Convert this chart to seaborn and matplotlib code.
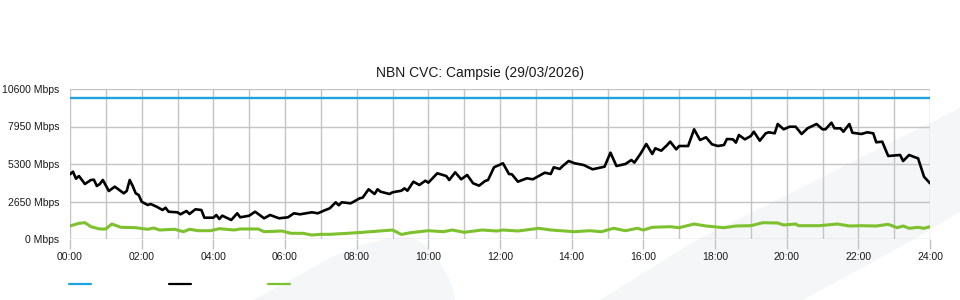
import matplotlib
matplotlib.use("Agg")
import matplotlib.pyplot as plt
from matplotlib.patches import Polygon
from matplotlib.lines import Line2D
import seaborn as sns
import pandas as pd

# ---------------- data ----------------
title = "NBN CVC: Campsie (29/03/2026)"
y_ticks = [0, 2650, 5300, 7950, 10600]
y_labels = ["0 Mbps", "2650 Mbps", "5300 Mbps", "7950 Mbps", "10600 Mbps"]
x_ticks = [0, 120, 240, 360, 480, 600, 720, 840, 960, 1080, 1200, 1320, 1440]
x_labels = ["00:00", "02:00", "04:00", "06:00", "08:00", "10:00", "12:00",
            "14:00", "16:00", "18:00", "20:00", "22:00", "24:00"]

capacity_minutes = [0, 1440]
capacity_mbps = [9950, 9950]

black_minutes = [0, 5, 10, 15, 25, 35, 40, 45, 50, 55, 65, 75, 90, 95, 100, 105,
                 110, 115, 120, 130, 135, 145, 155, 160, 165, 180, 185, 195, 200,
                 210, 220, 225, 240, 245, 250, 255, 270, 280, 285, 300, 310, 325,
                 335, 350, 365, 375, 385, 405, 415, 425, 435, 445, 450, 455, 470,
                 475, 485, 490, 500, 510, 515, 520, 535, 540, 555, 560, 565, 575,
                 585, 595, 600, 615, 630, 635, 645, 655, 665, 675, 685, 695, 700,
                 710, 725, 735, 740, 750, 765, 775, 795, 805, 810, 820, 825, 835,
                 845, 860, 875, 895, 905, 915, 930, 940, 945, 955, 965, 975, 980,
                 990, 1000, 1005, 1015, 1020, 1035, 1045, 1055, 1065, 1075, 1085,
                 1095, 1100, 1110, 1115, 1120, 1130, 1140, 1145, 1155, 1165, 1170,
                 1180, 1185, 1195, 1205, 1215, 1225, 1235, 1250, 1260, 1265, 1275,
                 1280, 1290, 1295, 1305, 1310, 1325, 1335, 1345, 1350, 1360, 1370,
                 1390, 1395, 1405, 1415, 1420, 1430, 1440]
black_mbps = [4572, 4756, 4262, 4452, 3887, 4170, 4190, 3745, 3887, 4170, 3392,
              3698, 3228, 3392, 4170, 3745, 3228, 3109, 2636, 2403, 2473, 2283,
              2049, 2212, 1929, 1884, 1745, 1979, 1767, 2099, 2049, 1505, 1505,
              1696, 1413, 1647, 1343, 1816, 1533, 1647, 1929, 1463, 1696, 1463,
              1533, 1816, 1745, 1887, 1816, 2000, 2170, 2594, 2380, 2594, 2523,
              2636, 2876, 2920, 3512, 3180, 3512, 3343, 3180, 3300, 3413, 3580,
              3413, 4050, 3816, 4120, 3980, 4643, 4452, 4170, 4713, 4219, 4523,
              3936, 3769, 4099, 4170, 5067, 5350, 4594, 4570, 4050, 4290, 4219,
              4686, 4594, 5067, 4950, 5159, 5512, 5350, 5230, 4926, 5109, 6099,
              5159, 5300, 5583, 5400, 6007, 6713, 6007, 6410, 6240, 6643, 6879,
              6336, 6572, 6572, 7752, 6996, 7187, 6690, 6572, 6643, 7067, 7043,
              6808, 7350, 7043, 7279, 7583, 6947, 7470, 7540, 7470, 8127, 7752,
              7936, 7936, 7420, 7822, 8127, 7752, 7752, 8219, 7822, 7822, 7583,
              8127, 7512, 7420, 7540, 7470, 6834, 6879, 5866, 5936, 5512, 5936,
              5771, 5700, 4403, 3936]

green_minutes = [0, 15, 25, 35, 50, 60, 70, 85, 110, 130, 140, 150, 175, 190, 200,
                 215, 235, 250, 275, 285, 315, 325, 355, 370, 390, 405, 420, 435,
                 465, 490, 540, 555, 570, 600, 625, 640, 660, 690, 715, 725, 750,
                 785, 805, 845, 870, 890, 910, 930, 950, 960, 975, 1005, 1020,
                 1045, 1065, 1095, 1115, 1140, 1160, 1185, 1195, 1215, 1220, 1255,
                 1285, 1305, 1325, 1350, 1370, 1385, 1395, 1405, 1420, 1430, 1440]
green_mbps = [919, 1109, 1152, 870, 707, 707, 1060, 827, 799, 686, 777, 636, 686,
              516, 686, 587, 587, 728, 636, 707, 707, 516, 565, 403, 403, 283, 330,
              330, 403, 473, 636, 320, 445, 587, 516, 636, 473, 636, 565, 636, 565,
              756, 636, 516, 587, 516, 756, 587, 756, 636, 827, 870, 799, 1060,
              919, 799, 919, 940, 1152, 1130, 990, 1060, 940, 940, 1060, 919, 940,
              919, 1038, 799, 919, 756, 827, 756, 870]

# ---------------- styling ----------------
c_blue = "#1fa3dd"
c_black = "#000000"
c_green = "#7ec12f"
c_grid = "#c4c4c4"
c_text = "#1a1a1a"
c_mark = "#f5f6f8"

sns.set_theme(style="white")
plt.rcParams["font.family"] = ["Liberation Sans", "DejaVu Sans"]

fig = plt.figure(figsize=(9.6, 3.0), dpi=100)
W, H = 960.0, 300.0

def px(pts):
    return [(x / W, 1 - y / H) for x, y in pts]

# decorative watermark shapes (behind everything)
fig.patches.append(Polygon(px([(253, 300), (290, 280), (330, 258), (365, 244),
                               (392, 238), (410, 237), (425, 244), (440, 262),
                               (452, 285), (455, 300)]),
                           closed=True, transform=fig.transFigure,
                           facecolor=c_mark, edgecolor="none", zorder=-5))
fig.patches.append(Polygon(px([(600, 300), (693, 242), (960, 108), (960, 212),
                               (913, 240), (803, 300)]),
                           closed=True, transform=fig.transFigure,
                           facecolor=c_mark, edgecolor="none", zorder=-5))

ax = fig.add_axes([70 / W, 1 - 239 / H, 860 / W, 150 / H])
ax.set_zorder(2)
ax.patch.set_alpha(0)

cap_df = pd.DataFrame({"t": capacity_minutes, "v": capacity_mbps})
blk_df = pd.DataFrame({"t": black_minutes, "v": black_mbps})
grn_df = pd.DataFrame({"t": green_minutes, "v": green_mbps})

sns.lineplot(data=cap_df, x="t", y="v", ax=ax, color=c_blue, linewidth=1.7, zorder=5)
sns.lineplot(data=blk_df, x="t", y="v", ax=ax, color=c_black, linewidth=1.9, zorder=5)
sns.lineplot(data=grn_df, x="t", y="v", ax=ax, color=c_green, linewidth=2.2, zorder=4)

ax.set_xlim(0, 1440)
ax.set_ylim(0, 10600)
ax.set_xlabel("")
ax.set_ylabel("")
ax.set_xticks(x_ticks)
ax.set_xticklabels(x_labels)
ax.set_xticks(list(range(60, 1440, 120)), minor=True)
ax.set_yticks(y_ticks)
ax.set_yticklabels(y_labels)

ax.grid(True, which="both", axis="x", color=c_grid, linewidth=1.0, zorder=1)
ax.grid(True, which="major", axis="y", color=c_grid, linewidth=1.0, zorder=1)
ax.set_axisbelow(True)
for s in ax.spines.values():
    s.set_visible(False)

ax.tick_params(axis="x", which="major", length=7.5, width=1.0, color=c_grid,
               pad=2, labelsize=7.5, labelcolor=c_text, direction="out", bottom=True)
ax.tick_params(axis="x", which="minor", length=0)
ax.tick_params(axis="y", length=0, pad=7.5, labelsize=7.5, labelcolor=c_text, left=True)

ax.set_title(title, fontsize=10, color=c_text, pad=9, x=(480 - 70) / 860)

handles = [Line2D([], [], color=c_blue, linewidth=1.6),
           Line2D([], [], color=c_black, linewidth=1.6),
           Line2D([], [], color=c_green, linewidth=1.6)]
fig.legend(handles, ["", "", ""], loc="center left", bbox_to_anchor=(69 / W, 1 - 285 / H),
           ncol=3, frameon=False, fontsize=10, handlelength=1.58, handletextpad=0,
           columnspacing=5.6, borderpad=0, borderaxespad=0)

fig.savefig("out.png", dpi=100)
